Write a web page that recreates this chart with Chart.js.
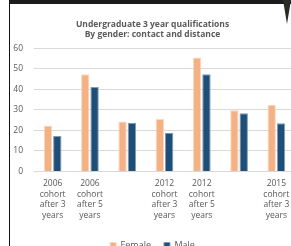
<!DOCTYPE html>
<html>
<head>
<meta charset="utf-8">
<script src="https://cdn.jsdelivr.net/npm/chart.js@4"></script>
<style>
  html, body { margin:0; padding:0; background:#fff; overflow:hidden; width:291px; height:246px; }
  #topbar { position:absolute; left:9px; top:0; width:282px; height:4px; background:#1c1c1c; }
  #leftline { position:absolute; left:9px; top:0; width:1px; height:246px; background:#111; }
  #corner { position:absolute; left:283px; top:0; width:0; height:0;
    border-left:4px solid transparent; border-right:4px solid transparent; border-top:24px solid #2a2a22; }
  #wrap { position:absolute; left:10px; top:4px; width:309px; height:256px; }
</style>
</head>
<body>
<div id="topbar"></div>
<div id="leftline"></div>
<div id="corner"></div>
<div id="wrap"><canvas id="c"></canvas></div>
<script>
// categories (3rd and 6th have no visible label)
const labels = [
  ['2006','cohort','after 3','years'],
  ['2006','cohort','after 5','years'],
  '',
  ['2012','cohort','after 3','years'],
  ['2012','cohort','after 5','years'],
  '',
  ['2015','cohort','after 3','years']
];
const female = [22.4, 47.3, 24.3, 25.6, 55.5, 29.8, 32.5];
const male = [17.3, 41.1, 23.7, 18.9, 47.3, 28.3, 23.5];
const titleLines = ['Undergraduate 3 year qualifications', 'By gender: contact and distance'];

const grey = '#595959';
const font = "'Open Sans', sans-serif";

new Chart(document.getElementById('c'), {
  type: 'bar',
  data: {
    labels,
    datasets: [
      { label:'Female', data:female, backgroundColor:'#F4B183', borderColor:'#fbd9c2', borderWidth:1,
        categoryPercentage:0.5, barPercentage:0.9 },
      { label:'Male', data:male, backgroundColor:'#1F4E79', borderColor:'#7f9bb5', borderWidth:1,
        categoryPercentage:0.5, barPercentage:0.9 }
    ]
  },
  options: {
    responsive: true,
    maintainAspectRatio: false,
    animation: false,
    layout: { padding:{ left:0, right:24, top:0, bottom:0 } },
    plugins: {
      title: { display:true, text:titleLines, color:grey,
        font:{ family:font, size:8.5, weight:'bold', lineHeight:1.25 }, padding:{ top:15, bottom:8 } },
      legend: { position:'bottom', labels:{ color:grey, boxWidth:6, boxHeight:6,
        font:{ family:font, size:9 }, padding:13 } },
      tooltip: { enabled:false }
    },
    scales: {
      x: { grid:{ display:false, drawTicks:false }, border:{ display:false },
        ticks:{ color:grey, font:{ family:font, size:8.5, lineHeight:1.25 }, maxRotation:0, autoSkip:false, padding:7 } },
      y: { min:0, max:60, afterFit: s => { s.width = 24; },
        ticks:{ stepSize:10, color:grey, font:{ family:font, size:8.5 }, padding:11 },
        grid:{ color:'#d9d9d9', drawTicks:false }, border:{ display:false } }
    }
  }
});
</script>
</body>
</html>
